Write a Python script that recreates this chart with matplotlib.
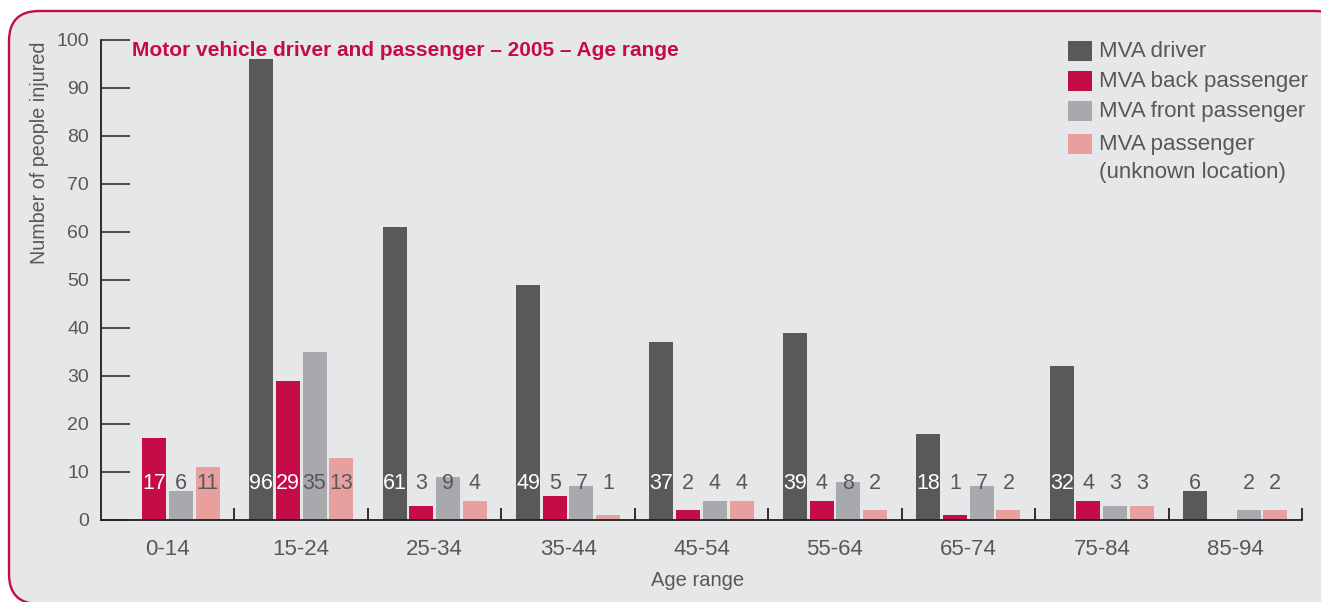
import matplotlib
matplotlib.use("Agg")
import matplotlib.pyplot as plt
import matplotlib.patches as mpatches
import numpy as np

plt.rcParams["font.family"] = ["Liberation Sans", "DejaVu Sans"]

# Data
age_ranges = ["0-14", "15-24", "25-34", "35-44", "45-54", "55-64", "65-74", "75-84", "85-94"]
series_names = ["MVA driver", "MVA back passenger", "MVA front passenger",
                "MVA passenger\n(unknown location)"]
driver = [0, 96, 61, 49, 37, 39, 18, 32, 6]
back_passenger = [17, 29, 3, 5, 2, 4, 1, 4, 0]
front_passenger = [6, 35, 9, 7, 4, 8, 7, 3, 2]
unknown_passenger = [11, 13, 4, 1, 4, 2, 2, 3, 2]
y_ticks = list(range(0, 101, 10))

series = [driver, back_passenger, front_passenger, unknown_passenger]
colors = ["#58595b", "#c60c46", "#a7a9ac", "#e8a09e"]
text_gray = "#58585a"
bg = "#e6e7e8"
crimson = "#c60c46"

W, H = 1321, 602
fig = plt.figure(figsize=(W / 100, H / 100), dpi=100)

# background layer in pixel coordinates (panel + legend)
bgax = fig.add_axes([0, 0, 1, 1], zorder=-1)
bgax.set_xlim(0, W)
bgax.set_ylim(H, 0)
bgax.axis("off")
panel = mpatches.FancyBboxPatch(
    (9, 11), 1345 - 9, 604 - 11,
    boxstyle="round,pad=0,rounding_size=30",
    facecolor=bg, edgecolor=crimson, linewidth=1.7,
)
bgax.add_patch(panel)

ax = fig.add_axes([101 / W, 1 - 520 / H, (1302 - 101) / W, (520 - 40) / H])
ax.set_facecolor("none")

x = np.arange(len(age_ranges))
width = 0.18
pitch = 0.2
for i, (vals, col) in enumerate(zip(series, colors)):
    pos = x - 0.3 + i * pitch
    ax.bar(pos, vals, width=width, color=col, zorder=2)
    for p, v in zip(pos, vals):
        if v == 0:
            continue
        white = i in (0, 1) and v >= 10
        ax.text(p, 7.7, str(v), ha="center", va="center", fontsize=15.5,
                color="white" if white else text_gray, zorder=3)

ax.set_xlim(-0.5, len(age_ranges) - 0.5)
ax.set_ylim(0, 100)

for s in ["top", "right"]:
    ax.spines[s].set_visible(False)
for s in ["left", "bottom"]:
    ax.spines[s].set_color("#231f20")
    ax.spines[s].set_linewidth(1.3)

ax.set_yticks(y_ticks)
ax.tick_params(axis="y", direction="in", length=21, width=1.1, color="#231f20",
               labelsize=14, labelcolor=text_gray, pad=8.5)

ax.set_xticks(x)
ax.set_xticklabels(age_ranges)
ax.tick_params(axis="x", which="major", length=0, labelsize=16,
               labelcolor=text_gray, pad=14)
ax.set_xticks(np.arange(0.5, len(age_ranges), 1.0), minor=True)
ax.tick_params(axis="x", which="minor", direction="in", length=8.5, width=1.3,
               color="#231f20")

fig.text(40 / W, 1 - 42 / H, "Number of people injured", rotation=90,
         ha="center", va="top", fontsize=14.2, color=text_gray)
fig.text(698 / W, 1 - 580 / H, "Age range", ha="center", va="center",
         fontsize=14.5, color=text_gray)
fig.text(132 / W, 1 - 50 / H, "Motor vehicle driver and passenger \u2013 2005 \u2013 Age range",
         ha="left", va="center", fontsize=15, color=crimson, fontweight="bold")

# legend: swatch aligned with the first line of each entry
legend_rows = [51, 81, 111, 144]
for name, col, yc in zip(series_names, colors, legend_rows):
    bgax.add_patch(mpatches.Rectangle((1068, yc - 10), 24, 20, facecolor=col,
                                      edgecolor="none"))
    bgax.text(1099, yc - 10, name, ha="left", va="top", fontsize=16,
              color=text_gray, linespacing=1.45)

fig.savefig("out.png", dpi=100, facecolor="white")
